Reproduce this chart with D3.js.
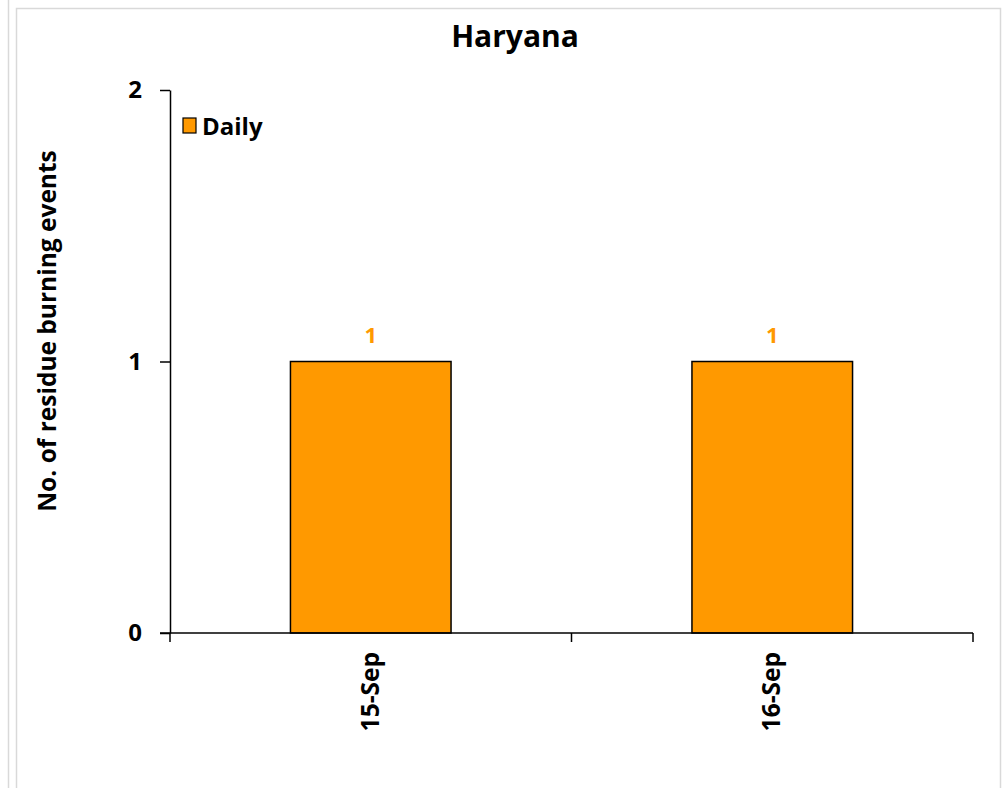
<!DOCTYPE html>
<html>
<head>
<meta charset="utf-8">
<script src="https://cdn.jsdelivr.net/npm/d3@7"></script>
<style>
  html, body { margin: 0; padding: 0; background: #fff; }
  svg text { font-family: "Open Sans", sans-serif; font-weight: bold; }
</style>
</head>
<body>
<script>
/* Data */
var categories = ["15-Sep", "16-Sep"];
var dailyValues = [1, 1];
var yTicks = [0, 1, 2];
var seriesName = "Daily";
var chartTitle = "Haryana";
var yTitle = "No. of residue burning events";

/* Layout */
var WIDTH = 1002, HEIGHT = 788;
var plot = { left: 170, right: 973, top: 90, bottom: 633 };
var BAR_COLOR = "#ff9900";

var svg = d3.select("body").append("svg")
    .attr("width", WIDTH)
    .attr("height", HEIGHT);

// outer frame lines
svg.append("line").attr("x1", 8.5).attr("x2", 8.5).attr("y1", 0).attr("y2", HEIGHT)
    .attr("stroke", "#d9d9d9").attr("stroke-width", 1.5);
svg.append("path")
    .attr("d", "M16.5," + HEIGHT + "V8.5H1000.5V" + HEIGHT)
    .attr("fill", "none").attr("stroke", "#d9d9d9").attr("stroke-width", 1.5);

var x = d3.scaleBand()
    .domain(categories)
    .range([plot.left, plot.right])
    .paddingInner(0.6)
    .paddingOuter(0.3);

var y = d3.scaleLinear()
    .domain([0, 2])
    .range([plot.bottom, plot.top]);

// title
svg.append("text")
    .attr("x", 515).attr("y", 47)
    .attr("text-anchor", "middle")
    .attr("font-size", 30)
    .text(chartTitle);

// y axis title
svg.append("text")
    .attr("transform", "translate(56,331) rotate(-90)")
    .attr("text-anchor", "middle")
    .attr("font-size", 24.5)
    .text(yTitle);

// bars
svg.selectAll(".bar")
    .data(dailyValues)
    .join("rect")
    .attr("class", "bar")
    .attr("x", (d, i) => x(categories[i]))
    .attr("width", x.bandwidth())
    .attr("y", d => y(d))
    .attr("height", d => y(0) - y(d))
    .attr("fill", BAR_COLOR)
    .attr("stroke", "#000")
    .attr("stroke-width", 1.5);

// value labels
svg.selectAll(".val")
    .data(dailyValues)
    .join("text")
    .attr("class", "val")
    .attr("x", (d, i) => x(categories[i]) + x.bandwidth() / 2)
    .attr("y", d => y(d) - 19)
    .attr("text-anchor", "middle")
    .attr("font-size", 22)
    .attr("fill", BAR_COLOR)
    .text(d => d);

// y axis
var yAxis = svg.append("g")
    .attr("transform", "translate(" + plot.left + ",0)")
    .call(d3.axisLeft(y).tickValues(yTicks).tickFormat(d3.format("d")).tickSize(10).tickSizeOuter(0));
yAxis.select(".domain").attr("stroke", "#000").attr("stroke-width", 1.5);
yAxis.selectAll(".tick line").attr("stroke", "#000").attr("stroke-width", 1.5);
yAxis.selectAll(".tick text")
    .attr("font-size", 24)
    .attr("x", -28)
    .attr("fill", "#000")
    .attr("font-family", null);

// x axis: ticks sit between categories
var step = (plot.right - plot.left) / categories.length;
var xAxis = svg.append("g")
    .attr("transform", "translate(0," + plot.bottom + ")");
xAxis.append("line")
    .attr("x1", plot.left - 10).attr("x2", plot.right)
    .attr("stroke", "#000").attr("stroke-width", 1.5);
xAxis.selectAll(".xtick")
    .data(d3.range(categories.length + 1))
    .join("line")
    .attr("class", "xtick")
    .attr("x1", i => plot.left + i * step).attr("x2", i => plot.left + i * step)
    .attr("y1", 0).attr("y2", 9)
    .attr("stroke", "#000").attr("stroke-width", 1.5);
xAxis.selectAll(".xlab")
    .data(categories)
    .join("text")
    .attr("class", "xlab")
    .attr("transform", d => "translate(" + (x(d) + x.bandwidth() / 2 + 8) + ",19) rotate(-90)")
    .attr("text-anchor", "end")
    .attr("font-size", 24.5)
    .text(d => d);

// legend
var legend = svg.append("g").attr("transform", "translate(183,118)");
legend.append("rect")
    .attr("width", 13).attr("height", 15)
    .attr("fill", BAR_COLOR)
    .attr("stroke", "#000").attr("stroke-width", 1.2);
legend.append("text")
    .attr("x", 19).attr("y", 17)
    .attr("font-size", 24)
    .text(seriesName);
</script>
</body>
</html>
